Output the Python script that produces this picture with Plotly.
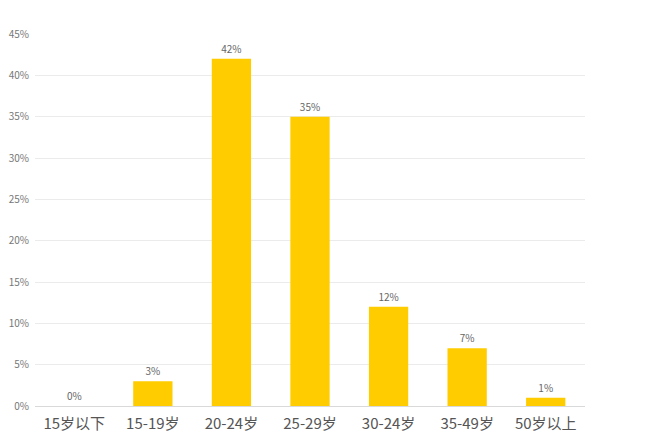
import plotly.graph_objects as go

# Age groups and share of respondents (%)
age_groups = ['15岁以下', '15-19岁', '20-24岁', '25-29岁', '30-24岁', '35-49岁', '50岁以上']
shares = [0, 3, 42, 35, 12, 7, 1]
bar_labels = [f'{v}%' for v in shares]

fig = go.Figure()

fig.add_trace(go.Bar(
    x=age_groups,
    y=shares,
    text=bar_labels,
    textposition='outside',
    textfont=dict(size=10, color='#666666'),
    cliponaxis=False,
    marker=dict(color='#FFCC00', line=dict(width=0)),
    width=0.5,
))

# page body adds a small offset, margins compensate for it
fig.update_layout(
    width=650,
    height=433,
    margin=dict(l=27, r=73, t=26, b=35),
    paper_bgcolor='white',
    plot_bgcolor='white',
    font=dict(family='Noto Sans CJK SC', color='#666666'),
    showlegend=False,
    xaxis=dict(
        showgrid=False,
        tickfont=dict(size=15, color='#555555'),
        ticklabelstandoff=7,
        ticks='',
        showline=False,
        automargin=False,
    ),
    yaxis=dict(
        range=[0, 45],
        dtick=5,
        ticksuffix='%',
        tickfont=dict(size=10, color='#777777'),
        ticklabelstandoff=5,
        automargin=False,
        gridcolor='#ebebeb',
        zeroline=True,
        zerolinecolor='#d9d9d9',
        zerolinewidth=1,
        showline=False,
    ),
)

fig.write_html('out.html')
